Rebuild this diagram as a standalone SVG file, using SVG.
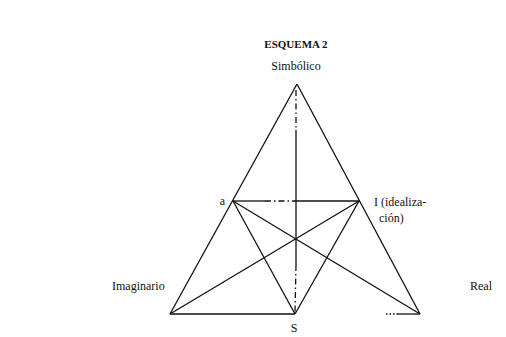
<svg xmlns="http://www.w3.org/2000/svg" width="506" height="337" viewBox="0 0 506 337">
<style>
text{font-family:"Liberation Serif","DejaVu Serif",serif;font-size:12px;fill:#111}
.t{font-weight:bold;font-size:11px}
line{stroke:#111;stroke-width:1.3;fill:none}
.dd{stroke-dasharray:6 3 1.5 3}
</style>
<rect width="506" height="337" fill="#fff"/>
<text class="t" x="296" y="48" text-anchor="middle">ESQUEMA 2</text>
<g id="connectors">
<line x1="297" y1="84" x2="170" y2="314"/>
<line x1="297" y1="84" x2="420" y2="314"/>
<line class="dd" x1="296" y1="90" x2="296" y2="130"/>
<line x1="296" y1="130" x2="296" y2="265"/>
<line class="dd" x1="296" y1="265" x2="295" y2="312"/>
<line x1="233" y1="201" x2="265" y2="201"/>
<line class="dd" x1="265" y1="201" x2="292" y2="201"/>
<line x1="292" y1="201" x2="359" y2="201"/>
<line x1="233" y1="201" x2="420" y2="314"/>
<line x1="359" y1="201" x2="170" y2="314"/>
<line x1="233" y1="201" x2="295" y2="314"/>
<line x1="359" y1="201" x2="295" y2="314"/>
<line x1="170" y1="314" x2="295" y2="314"/>
<line x1="386" y1="314" x2="398" y2="314" stroke-dasharray="1.5 2"/>
<line x1="398" y1="314" x2="420" y2="314"/>
</g>
<g id="simbolico"><text x="296" y="70" text-anchor="middle">Simbólico</text></g>
<g id="a"><text x="225" y="205" text-anchor="end">a</text></g>
<g id="idealizacion"><text x="374" y="206">I (idealiza-</text><text x="379" y="222">ción)</text></g>
<g id="imaginario"><text x="112" y="290">Imaginario</text></g>
<g id="real"><text x="470" y="290">Real</text></g>
<g id="s"><text x="294" y="332" text-anchor="middle">S</text></g>
</svg>
